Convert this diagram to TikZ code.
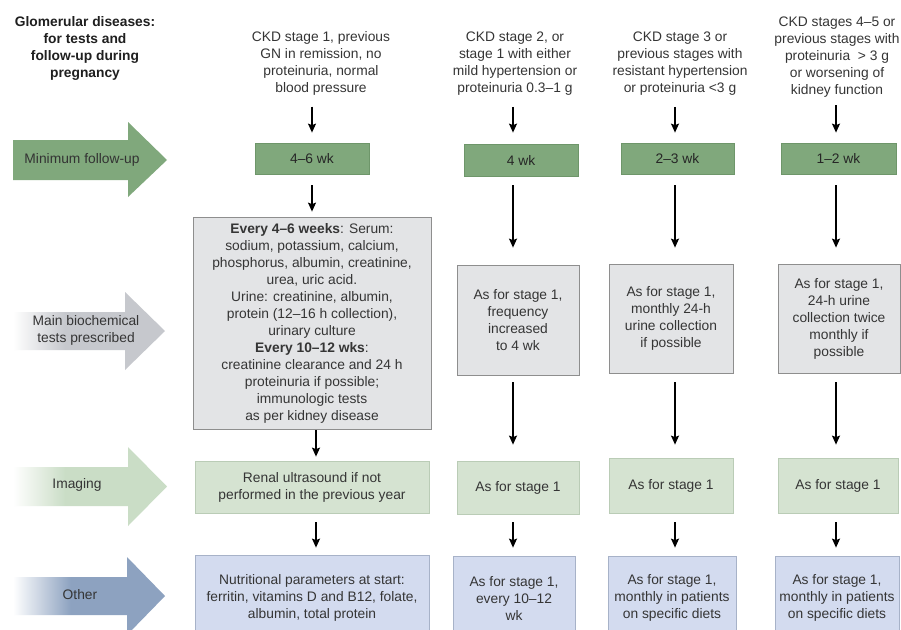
\documentclass[tikz,border=0pt]{standalone}
\usepackage{fontspec}
\setmainfont{Liberation Sans}
\usetikzlibrary{arrows.meta}
\definecolor{txt}{HTML}{353535}
\definecolor{mfg}{HTML}{80A87C}
\definecolor{mfgline}{HTML}{6E966A}
\definecolor{imgfill}{HTML}{D5E3D1}
\definecolor{imgline}{HTML}{BACCB6}
\definecolor{imgarr}{HTML}{CADDC6}
\definecolor{grayfill}{HTML}{E3E4E6}
\definecolor{grayline}{HTML}{8E8E8E}
\definecolor{grayarr}{HTML}{C6C8CD}
\definecolor{bluefill}{HTML}{D3DBEF}
\definecolor{blueline}{HTML}{A7B2C8}
\definecolor{bluearr}{HTML}{8DA2C0}
\pgfdeclarehorizontalshading{fadegray}{100bp}{color(0bp)=(white); color(25bp)=(white); color(42bp)=(grayarr); color(100bp)=(grayarr)}
\pgfdeclarehorizontalshading{fadegreen}{100bp}{color(0bp)=(white); color(25bp)=(white); color(42bp)=(imgarr); color(100bp)=(imgarr)}
\pgfdeclarehorizontalshading{fadeblue}{100bp}{color(0bp)=(white); color(25bp)=(white); color(44bp)=(bluearr); color(100bp)=(bluearr)}
\begin{document}
\begin{tikzpicture}[x=1pt,y=-1pt,
  every node/.style={font=\fontsize{13.8}{17}\selectfont, text=txt, align=center, inner sep=0pt},
  box/.style={draw, line width=0.8pt},
  greenbox/.style={box, fill=mfg, draw=mfgline, text=black!85},
  graybox/.style={box, fill=grayfill, draw=grayline},
  imgbox/.style={box, fill=imgfill, draw=imgline},
  bluebox/.style={box, fill=bluefill, draw=blueline},
  conn/.style={line width=1.2pt, -{Stealth[length=9pt,width=8pt,inset=1.5pt]}}
]
\clip (0,0) rectangle (901,629);
\fill[white] (0,0) rectangle (901,629);

% column coordinates for connectors
\coordinate (c1) at (312,0);
\coordinate (c1b) at (316,0);
\coordinate (c2) at (513,0);
\coordinate (c3) at (675,0);
\coordinate (c4) at (836,0);

% title
\node[text=black!88] (title) at (85,48.5) {\textbf{Glomerular diseases:}\\\textbf{for tests and}\\\textbf{follow-up during}\\\textbf{pregnancy}};

% left arrows
\fill[mfg] (13,140) -- (128,140) -- (128,122) -- (167,160) -- (128,197) -- (128,180) -- (13,180) -- cycle;
\node[text=black!80] (lab1) at (82,160) {Minimum follow-up};
\shade[shading=fadegray] (13,312) -- (125,312) -- (125,292) -- (165,331) -- (125,370) -- (125,350) -- (13,350) -- cycle;
\node (lab2) at (86,330) {Main biochemical\\tests prescribed};
\shade[shading=fadegreen] (13,467) -- (128,467) -- (128,447) -- (167,486.5) -- (128,526) -- (128,506) -- (13,506) -- cycle;
\node (lab3) at (77,485) {Imaging};
\shade[shading=fadeblue] (13,577) -- (127,577) -- (127,557) -- (165,596) -- (127,635) -- (127,615) -- (13,615) -- cycle;
\node (lab4) at (80,595) {Other};

% headers
\node (h1) at (321,63.5) {CKD stage 1, previous\\GN in remission, no\\proteinuria, normal\\blood pressure};
\node (h2) at (515,64) {CKD stage 2, or\\stage 1 with either\\mild hypertension or\\proteinuria 0.3–1 g};
\node (h3) at (680,64) {CKD stage 3 or\\previous stages with\\resistant hypertension\\or proteinuria <3 g};
\node (h4) at (837,57) {CKD stages 4–5 or\\previous stages with\\proteinuria \ > 3 g\\or worsening of\\kidney function};

% minimum follow-up row
\node[greenbox, minimum width=114pt, minimum height=31pt] (g1) at (312,158.5) {4–6 wk};
\node[greenbox, minimum width=114pt, minimum height=32pt] (g2) at (521,160) {4 wk};
\node[greenbox, minimum width=113pt, minimum height=31pt] (g3) at (677.5,158.5) {2–3 wk};
\node[greenbox, minimum width=115pt, minimum height=31pt] (g4) at (838.5,158.5) {1–2 wk};

% biochemical tests row
\node[graybox, minimum width=238pt, minimum height=212pt] (t1) at (312,323) {\textbf{Every 4–6 weeks}: Serum:\\sodium, potassium, calcium,\\phosphorus, albumin, creatinine,\\urea, uric acid.\\Urine: creatinine, albumin,\\protein (12–16 h collection),\\urinary culture\\\textbf{Every 10–12 wks}:\\creatinine clearance and 24 h\\proteinuria if possible;\\immunologic tests\\as per kidney disease};
\node[graybox, minimum width=122pt, minimum height=110pt] (t2) at (518,320) {As for stage 1,\\frequency\\increased\\to 4 wk};
\node[graybox, minimum width=124pt, minimum height=109pt] (t3) at (671,318.5) {As for stage 1,\\monthly 24-h\\urine collection\\if possible};
\node[graybox, minimum width=122pt, minimum height=109pt] (t4) at (839,318.5) {As for stage 1,\\24-h urine\\collection twice\\monthly if\\possible};

% imaging row
\node[imgbox, minimum width=234pt, minimum height=52pt] (i1) at (312,487) {Renal ultrasound if not\\performed in the previous year};
\node[imgbox, minimum width=122pt, minimum height=53pt] (i2) at (518,487.5) {As for stage 1};
\node[imgbox, minimum width=124pt, minimum height=55pt] (i3) at (671,485.5) {As for stage 1};
\node[imgbox, minimum width=120pt, minimum height=55pt] (i4) at (838,485.5) {As for stage 1};

% other row
\node[bluebox, minimum width=234pt, minimum height=85pt] (o1) at (312,597.5) {Nutritional parameters at start:\\ferritin, vitamins D and B12, folate,\\albumin, total protein};
\node[bluebox, minimum width=122pt, minimum height=84pt] (o2) at (514,598) {As for stage 1,\\every 10–12\\wk};
\node[bluebox, minimum width=128pt, minimum height=84pt] (o3) at (672,598) {As for stage 1,\\monthly in patients\\on specific diets};
\node[bluebox, minimum width=124pt, minimum height=84pt] (o4) at (837,598) {As for stage 1,\\monthly in patients\\on specific diets};

% connectors column 1
\draw[conn, shorten <=11pt, shorten >=10pt] (h1.south -| c1) -- (g1.north -| c1);
\draw[conn, shorten <=11pt, shorten >=5pt] (g1.south -| c1) -- (t1.north -| c1);
\draw[conn, shorten <=1pt, shorten >=4pt] (t1.south -| c1b) -- (i1.north -| c1b);
\draw[conn, shorten <=9pt, shorten >=7pt] (i1.south -| c1b) -- (o1.north -| c1b);
% column 2
\draw[conn, shorten <=11pt, shorten >=11pt] (h2.south -| c2) -- (g2.north -| c2);
\draw[conn, shorten <=9pt, shorten >=17pt] (g2.south -| c2) -- (t2.north -| c2);
\draw[conn, shorten <=7pt, shorten >=16pt] (t2.south -| c2) -- (i2.north -| c2);
\draw[conn, shorten <=8pt, shorten >=8pt] (i2.south -| c2) -- (o2.north -| c2);
% column 3
\draw[conn, shorten <=11pt, shorten >=10pt] (h3.south -| c3) -- (g3.north -| c3);
\draw[conn, shorten <=11pt, shorten >=16pt] (g3.south -| c3) -- (t3.north -| c3);
\draw[conn, shorten <=9pt, shorten >=13pt] (t3.south -| c3) -- (i3.north -| c3);
\draw[conn, shorten <=9pt, shorten >=8pt] (i3.south -| c3) -- (o3.north -| c3);
% column 4
\draw[conn, shorten <=8pt, shorten >=10pt] (h4.south -| c4) -- (g4.north -| c4);
\draw[conn, shorten <=11pt, shorten >=16pt] (g4.south -| c4) -- (t4.north -| c4);
\draw[conn, shorten <=9pt, shorten >=13pt] (t4.south -| c4) -- (i4.north -| c4);
\draw[conn, shorten <=9pt, shorten >=8pt] (i4.south -| c4) -- (o4.north -| c4);
\end{tikzpicture}
\end{document}
